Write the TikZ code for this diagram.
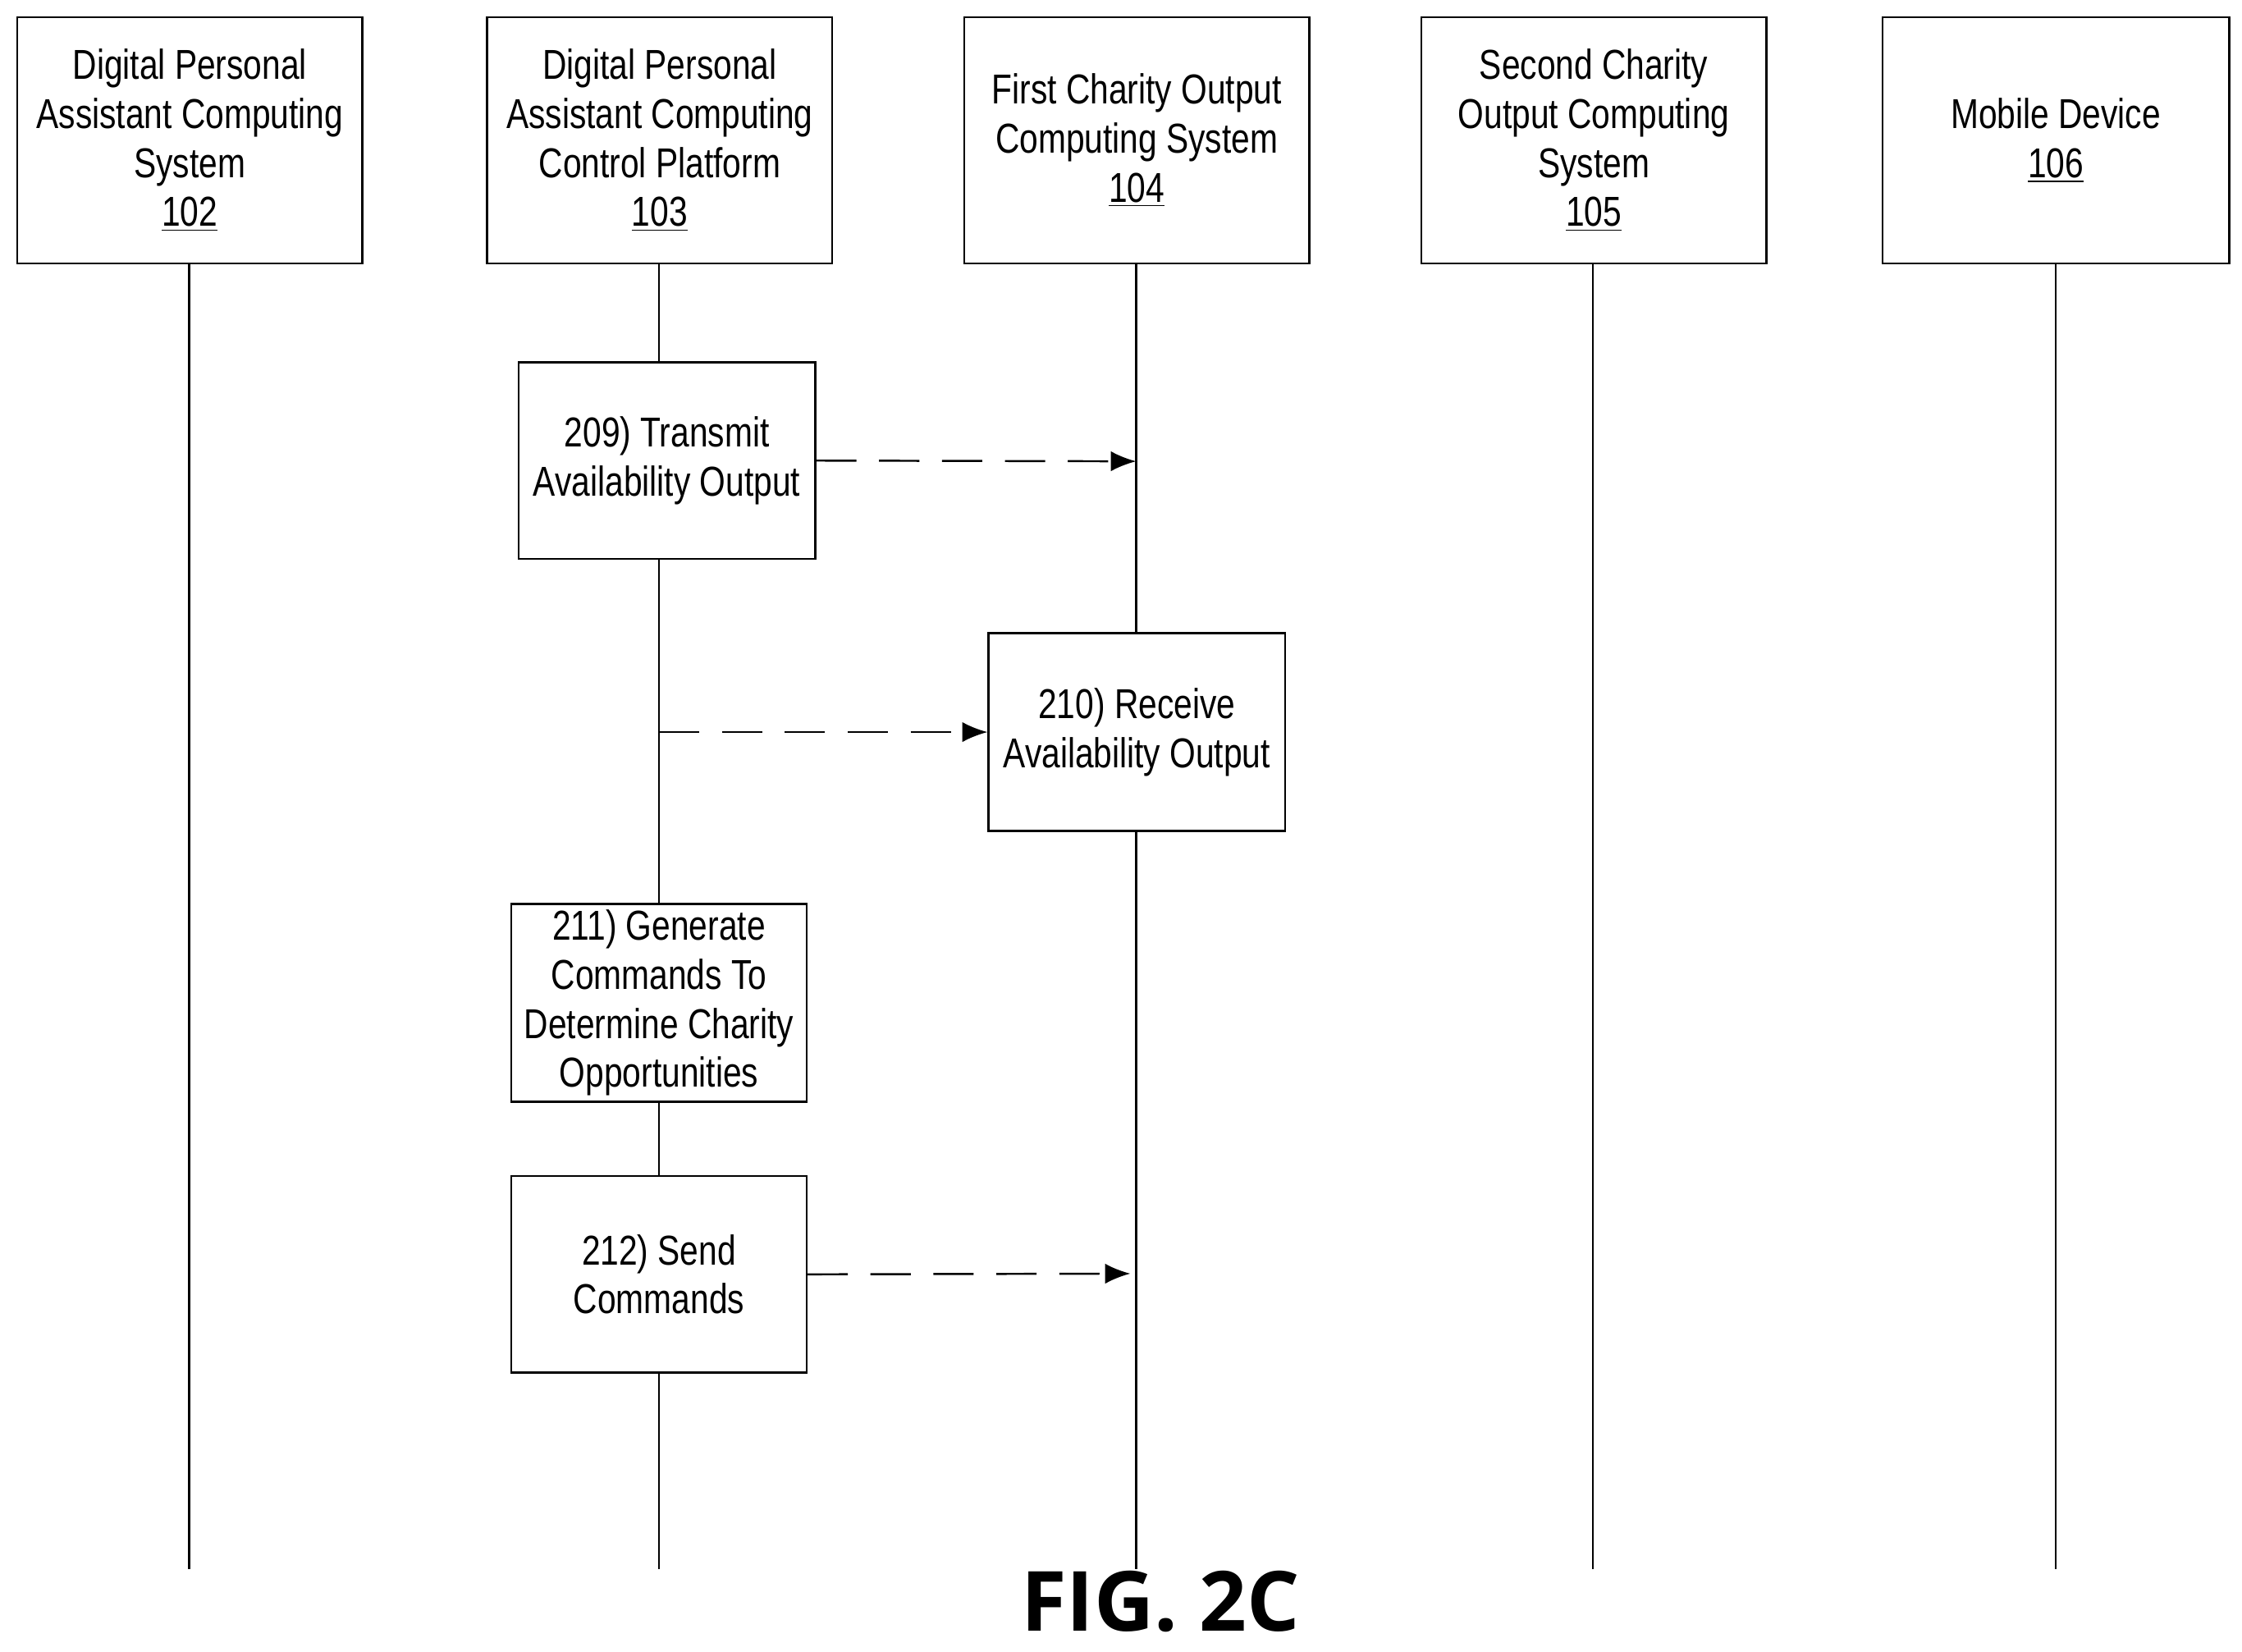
\documentclass[tikz,border=0pt]{standalone}
\usepackage{fontspec}
\usetikzlibrary{arrows.meta}
\setmainfont{Liberation Sans}[FakeStretch=0.8]
\newfontfamily\figfont{Open Sans}
\begin{document}
\begin{tikzpicture}[x=0.02cm,y=-0.02cm,
  box/.style={draw,thick,fill=white,align=center,inner sep=0pt,font=\fontsize{16.6}{19.5}\selectfont},
  life/.style={thick},
  msg/.style={thick,dash pattern=on 16pt off 9pt,-{Latex[length=10pt,width=8pt]}}]
\useasboundingbox (0,0) rectangle (1565,1153);
\foreach \n/\x in {a/132,b/460,c/793,d/1112,e/1435}{
  \coordinate (\n top) at (\x,184); \coordinate (\n bot) at (\x,1095);
  \draw[life] (\n top) -- (\n bot);}
\node[box,minimum width=241*0.02cm,minimum height=172*0.02cm] (h1) at (132.5,98) {Digital Personal\\Assistant Computing\\System\\\underline{102}};
\node[box,minimum width=241*0.02cm,minimum height=172*0.02cm] (h2) at (460.5,98) {Digital Personal\\Assistant Computing\\Control Platform\\\underline{103}};
\node[box,minimum width=241*0.02cm,minimum height=172*0.02cm] (h3) at (793.5,98) {First Charity Output\\Computing System\\\underline{104}};
\node[box,minimum width=241*0.02cm,minimum height=172*0.02cm] (h4) at (1112.5,98) {Second Charity\\Output Computing\\System\\\underline{105}};
\node[box,minimum width=242*0.02cm,minimum height=172*0.02cm] (h5) at (1435,98) {Mobile Device\\\underline{106}};
\node[box,minimum width=207*0.02cm,minimum height=137*0.02cm] (s209) at (465.5,321.5) {209) Transmit\\Availability Output};
\node[box,minimum width=207*0.02cm,minimum height=138*0.02cm] (s210) at (793.5,511) {210) Receive\\Availability Output};
\node[box,minimum width=206*0.02cm,minimum height=138*0.02cm] (s211) at (460,700) {211) Generate\\Commands To\\Determine Charity\\Opportunities};
\node[box,minimum width=206*0.02cm,minimum height=137*0.02cm] (s212) at (460,889.5) {212) Send\\Commands};
\coordinate (p1) at (793,322);
\coordinate (p2) at (460,511);
\coordinate (p3) at (789,889);
\draw[msg] (s209.east) -- (p1);
\draw[msg] (p2) -- (s210.west);
\draw[msg] (s212.east) -- (p3);
\node[font=\figfont\bfseries\fontsize{33}{38}\selectfont] (fig) at (810,1118) {FIG. 2C};
\end{tikzpicture}
\end{document}
